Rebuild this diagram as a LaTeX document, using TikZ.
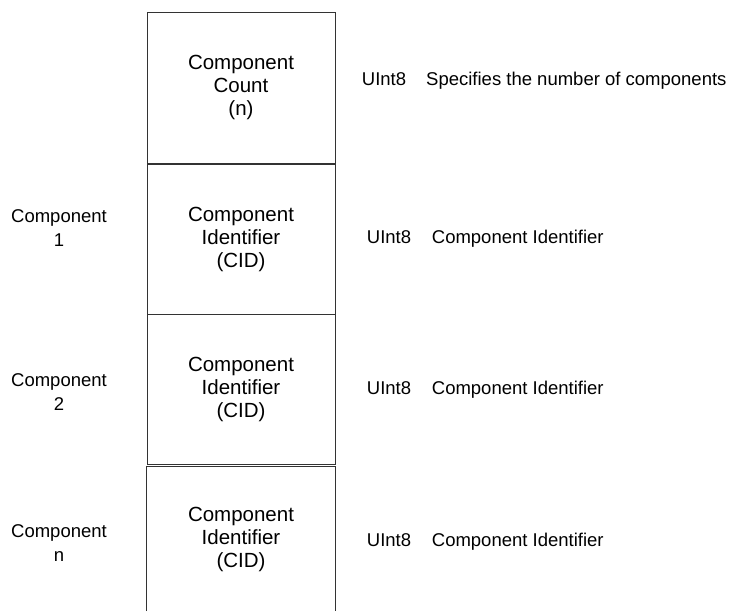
\documentclass[tikz,border=0pt]{standalone}
\usepackage{fontspec}
\setmainfont{Liberation Sans}
\begin{document}
\begin{tikzpicture}[x=1pt,y=-1pt,
  fieldbox/.style={draw=black!80, line width=0.8pt, minimum width=188pt, align=center, inner sep=0pt,
    font=\fontsize{20.5}{23}\selectfont},
  openbox/.style={minimum width=188pt, align=center, inner sep=0pt, font=\fontsize{20.5}{23}\selectfont},
  sidelabel/.style={align=center, inner sep=0pt, font=\fontsize{18.5}{24}\selectfont},
  typelabel/.style={anchor=base west, inner sep=0pt, font=\fontsize{18.5}{22}\selectfont}]
\useasboundingbox (0,0) rectangle (731,611);
% field boxes
\node[fieldbox, minimum height=151pt] (b1) at (241,87.5) {Component\\Count\\(n)};
\node[fieldbox, minimum height=150pt] (b2) at (241,239) {Component\\Identifier\\(CID)};
\node[fieldbox, minimum height=150pt] (b3) at (241,389) {Component\\Identifier\\(CID)};
\node[openbox, minimum height=144pt] (b4) at (241,539) {Component\\Identifier\\(CID)};
\draw[draw=black!80, line width=0.8pt] (b4.south west) -- (b4.north west) -- (b4.north east) -- (b4.south east);
% left labels
\node[sidelabel] (l1) at (59,228) {Component\\1};
\node[sidelabel] (l2) at (59,392) {Component\\2};
\node[sidelabel] (l3) at (59,543) {Component\\n};
% type and description
\node[typelabel] (t1) at (361.7,85) {UInt8};
\node[typelabel] (d1) at (426,85) {Specifies the number of components};
\node[typelabel] (t2) at (366.7,243.5) {UInt8};
\node[typelabel] (d2) at (431.7,243.5) {Component Identifier};
\node[typelabel] (t3) at (366.7,394) {UInt8};
\node[typelabel] (d3) at (431.7,394) {Component Identifier};
\node[typelabel] (t4) at (366.7,546) {UInt8};
\node[typelabel] (d4) at (431.7,546) {Component Identifier};
\end{tikzpicture}
\end{document}
